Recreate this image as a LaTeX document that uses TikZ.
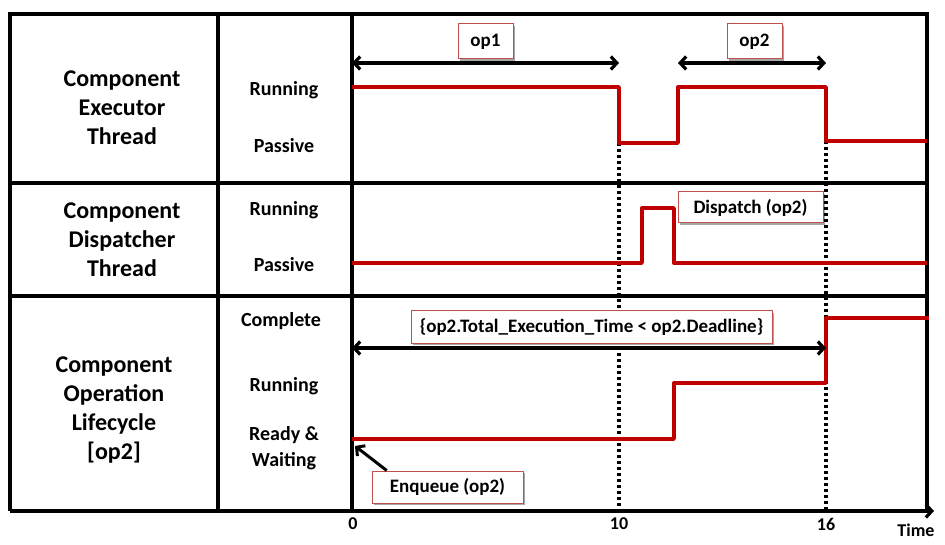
\documentclass[tikz,border=0pt]{standalone}
\usepackage{fontspec}
\setmainfont{Carlito}
\usetikzlibrary{arrows.meta,shadows,calc}
\definecolor{wavered}{RGB}{192,0,0}
\definecolor{tagred}{RGB}{192,80,77}

\tikzset{
  grid/.style={line width=3.2pt},
  wave/.style={draw=wavered,line width=3.4pt,line join=round},
  guide/.style={line width=3.2pt,dash pattern=on 3pt off 3pt},
  barb/.tip={Straight Barb[length=6pt,width=13pt]},
  span/.style={line width=3.2pt,barb-barb},
  tag/.style={draw=tagred,fill=white,line width=1pt,inner sep=0pt,
    font=\bfseries\fontsize{19}{21}\selectfont,
    drop shadow={shadow xshift=2pt,shadow yshift=-2pt,opacity=0.35,fill=black}},
  thread/.style={font=\bfseries\fontsize{24}{29}\selectfont,align=center},
  state/.style={font=\bfseries\fontsize{20}{26}\selectfont,align=center},
  tick/.style={font=\bfseries\fontsize{18}{20}\selectfont}
}

\begin{document}
\begin{tikzpicture}[x=1pt,y=-1pt]
\useasboundingbox (0,0) rectangle (945,545);

\draw[grid] (10,511) -- (10,14) -- (927,14) -- (927,511);
\draw[grid] (10,183) -- (927,183);
\draw[grid] (10,296) -- (927,296);
\draw[grid] (218,14) -- (218,511);
\draw[grid] (352,14) -- (352,511);
\draw[grid,-barb] (10,511) -- (934,511);

\node[thread] (exec) at (122,108) {Component\\Executor\\Thread};
\node[thread] (disp) at (122,240) {Component\\Dispatcher\\Thread};
\node[thread] (life) at (114,410) {Component\\Operation\\Lifecycle\\{[op2]}};

\node[state] (execrun) at (284,90) {Running};
\node[state] (execpas) at (284,146) {Passive};
\node[state] (disprun) at (284,210) {Running};
\node[state] (disppas) at (284,265) {Passive};
\node[state] (lifecom) at (281,321) {Complete};
\node[state] (liferun) at (284,386) {Running};
\node[state] (liferdy) at (284,448) {Ready \&\\Waiting};

\node[tick] (t0) at (353,524) {0};
\node[tick] (t10) at (619,524) {10};
\node[tick] (t16) at (826,524) {16};
\node[tick] (time) at (916,530) {Time};

\draw[guide] (619,143) -- (619,511);
\draw[guide] (826,141) -- (826,511);

\draw[wave] (352,87) -- (619,87) -- (619,143) -- (678,143) -- (678,87) -- (826,87) -- (826,141) -- (927,141);
\draw[wave] (352,263) -- (642,263) -- (642,208) -- (674,208) -- (674,263) -- (927,263);
\draw[wave] (352,439) -- (674,439) -- (674,383) -- (826,383) -- (826,318) -- (929,318);

\coordinate (op1L) at (352,63);
\coordinate (op1R) at (619,63);
\coordinate (op2L) at (678,63);
\coordinate (op2R) at (826,63);
\coordinate (dlL) at (352,348);
\coordinate (dlR) at (826,348);
\coordinate (enq) at (355,446);

\draw[span] (op1L) -- (op1R);
\draw[span] (op2L) -- (op2R);
\draw[span] (dlL) -- (dlR);

\node[tag,minimum width=55pt,minimum height=35pt] (op1) at (485.5,41.5) {op1};
\node[tag,minimum width=55pt,minimum height=35pt] (op2) at (754.5,41.5) {op2};
\node[tag,minimum width=145pt,minimum height=31pt] (dispatch) at (750.5,207.5) {Dispatch (op2)};
\node[tag,minimum width=361pt,minimum height=32pt] (deadline) at (591.5,327) {\{op2.Total\_Execution\_Time < op2.Deadline\}};
\node[tag,minimum width=151pt,minimum height=32pt] (enqueue) at (447.5,487) {Enqueue (op2)};

\draw[line width=3pt,-barb] ($(enqueue.north west)!0.1!(enqueue.north east)$) -- (enq);

\end{tikzpicture}
\end{document}
